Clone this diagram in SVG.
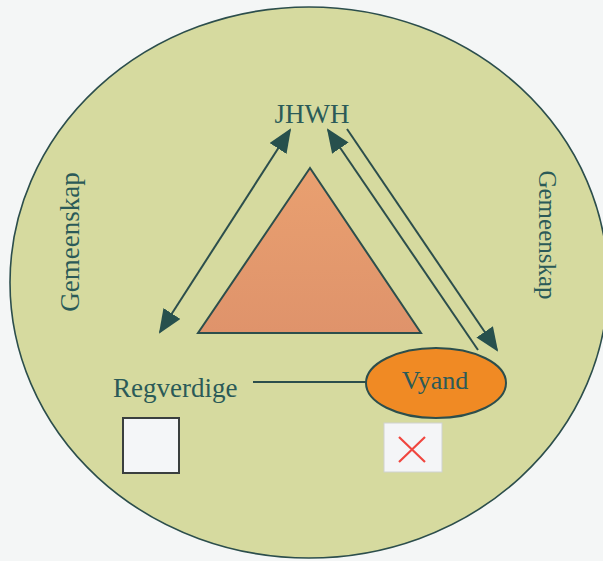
<svg xmlns="http://www.w3.org/2000/svg" width="603" height="561" viewBox="0 0 603 561">
<style>
.lbl{font-family:"Liberation Serif","Times New Roman",serif;fill:#2b5a58}
.conn{stroke:#2c4e4c;stroke-width:2;fill:none}
</style>
<defs>
<marker id="ah" markerUnits="userSpaceOnUse" markerWidth="24" markerHeight="20" viewBox="0 0 24 20" refX="22" refY="10" orient="auto-start-reverse">
<path d="M0,0 L24,10 L0,20 z" fill="#27504d"/>
</marker>
<linearGradient id="tri" x1="0" y1="0" x2="0" y2="1">
<stop offset="0" stop-color="#e9a070"/>
<stop offset="1" stop-color="#df936b"/>
</linearGradient>
</defs>
<rect width="603" height="561" fill="#f4f6f6"/>
<g id="circle">
<ellipse cx="309" cy="282.5" rx="299" ry="275.5" fill="#d6da9f" stroke="#2c4e4c" stroke-width="1.6"/>
</g>
<g id="triangle">
<polygon points="310,168 198,333 421,333" fill="url(#tri)" stroke="#2c4e4c" stroke-width="2"/>
</g>
<g id="connectors">
<line class="conn" x1="160" y1="332" x2="290" y2="130" marker-start="url(#ah)" marker-end="url(#ah)"/>
<line class="conn" x1="478" y1="350" x2="328" y2="130" marker-end="url(#ah)"/>
<line class="conn" x1="347" y1="129" x2="497" y2="350" marker-end="url(#ah)"/>
<line class="conn" x1="253" y1="382" x2="367" y2="382"/>
</g>
<g id="jhwh">
<text class="lbl" x="312" y="123" font-size="27" text-anchor="middle">JHWH</text>
</g>
<g id="vyand">
<ellipse cx="436" cy="383" rx="70" ry="35" fill="#f08a24" stroke="#2c4e4c" stroke-width="2"/>
<text class="lbl" x="435" y="389" font-size="26" text-anchor="middle">Vyand</text>
</g>
<g id="regverdige">
<text class="lbl" x="113" y="397" font-size="27">Regverdige</text>
</g>
<g id="gemeenskap-left">
<text class="lbl" font-size="27" text-anchor="middle" transform="translate(79,242) rotate(-90)">Gemeenskap</text>
</g>
<g id="gemeenskap-right">
<text class="lbl" font-size="25" text-anchor="middle" transform="translate(539,235) rotate(90)">Gemeenskap</text>
</g>
<g id="box-empty">
<rect x="123" y="418" width="56" height="55" fill="#f4f6f8" stroke="#3a3f3f" stroke-width="2"/>
</g>
<g id="box-cross">
<rect x="384" y="423" width="58" height="49" fill="#f4f5f7" stroke="#cfd2d0" stroke-width="1"/>
<path d="M399,437 L425,462 M425,437 L399,462" stroke="#f0463f" stroke-width="2.2" fill="none"/>
</g>
</svg>
